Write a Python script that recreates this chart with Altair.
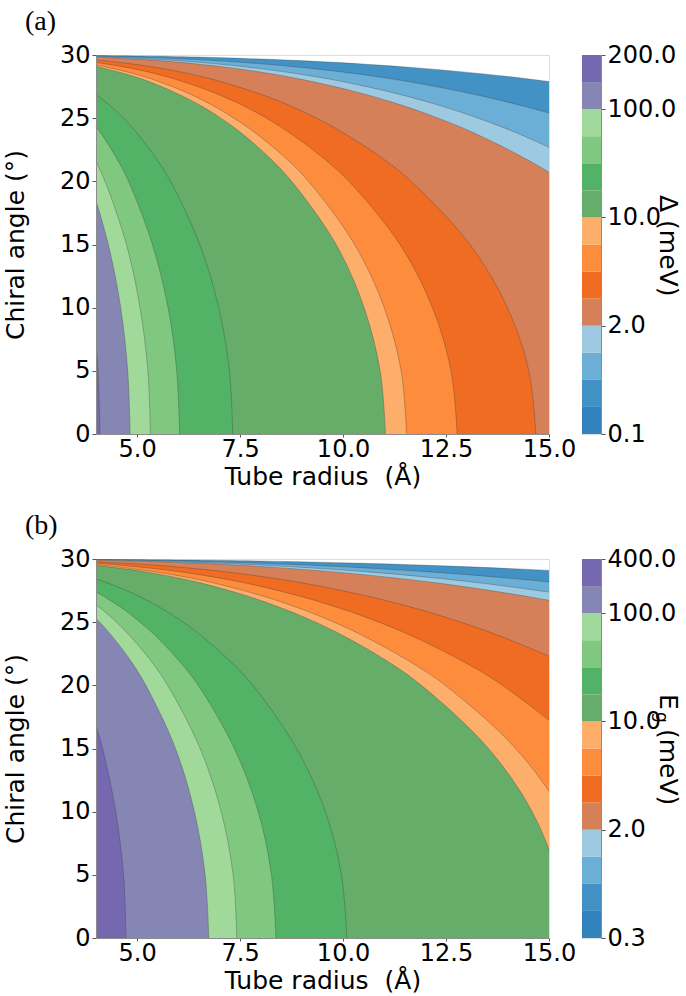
import altair as alt
import pandas as pd

# ---------------- data ----------------
# chiral angles (deg) at which each contour boundary was read
THETA_GRID = [0, 5, 10, 15, 20, 22, 24, 25, 26, 27, 28, 28.5, 29, 29.5, 29.8, 29.9]

# panel (a): Delta contour boundaries, tube radius (A) at THETA_GRID, from lowest level to highest
a_contour_r = [
    [31.33, 30.97, 29.86, 27.91, 24.87, 23.21, 21.18, 19.97, 18.56, 16.88, 14.76, 13.41, 11.72, 9.31, 6.85, 5.44],
    [24.19, 23.91, 23.06, 21.55, 19.20, 17.92, 16.35, 15.42, 14.33, 13.03, 11.39, 10.36, 9.05, 7.18, 5.29, 4.20],
    [20.84, 20.60, 19.87, 18.57, 16.54, 15.44, 14.09, 13.28, 12.35, 11.23, 9.82, 8.92, 7.79, 6.19, 4.56],
    [19.32, 19.10, 18.42, 17.21, 15.33, 14.31, 13.06, 12.31, 11.45, 10.41, 9.10, 8.27, 7.23, 5.74, 4.23],
    [14.68, 14.51, 13.99, 13.08, 11.65, 10.88, 9.92, 9.36, 8.70, 7.91, 6.91, 6.28, 5.49, 4.36],
    [12.77, 12.62, 12.17, 11.38, 10.14, 9.46, 8.63, 8.14, 7.57, 6.88, 6.01, 5.47, 4.78],
    [11.54, 11.41, 11.00, 10.28, 9.16, 8.55, 7.80, 7.35, 6.84, 6.22, 5.44, 4.94, 4.32],
    [11.03, 10.90, 10.51, 9.83, 8.75, 8.17, 7.46, 7.03, 6.54, 5.94, 5.20, 4.72, 4.13],
    [7.32, 7.24, 6.98, 6.52, 5.81, 5.42, 4.95, 4.67, 4.34],
    [6.03, 5.96, 5.75, 5.37, 4.79, 4.47, 4.08],
    [5.32, 5.26, 5.07, 4.74, 4.22],
    [4.83, 4.77, 4.60, 4.30],
    [4.10, 4.05],
]
# angle at which each boundary meets the left edge (r = 4 A)
a_theta_end = [29.96, 29.914, 29.865, 29.83, 29.614, 29.413, 29.204, 29.09, 26.87, 24.34, 21.61, 18.46, 7.27]

# panel (b): E_g contour boundaries
b_contour_r = [
    [46.51, 45.92, 44.10, 40.91, 35.98, 33.33, 30.10, 28.19, 26.00, 23.39, 20.15, 18.12, 15.60, 12.07, 8.59, 6.65],
    [35.85, 35.39, 33.99, 31.53, 27.73, 25.69, 23.20, 21.73, 20.04, 18.03, 15.53, 13.97, 12.02, 9.30, 6.62, 5.12],
    [31.38, 30.98, 29.75, 27.60, 24.28, 22.49, 20.31, 19.02, 17.54, 15.78, 13.59, 12.23, 10.52, 8.14, 5.80, 4.49],
    [28.89, 28.52, 27.39, 25.41, 22.35, 20.70, 18.70, 17.51, 16.15, 14.53, 12.52, 11.26, 9.69, 7.50, 5.34, 4.13],
    [21.21, 20.94, 20.11, 18.66, 16.41, 15.20, 13.73, 12.86, 11.86, 10.67, 9.19, 8.26, 7.11, 5.50],
    [17.93, 17.70, 17.00, 15.77, 13.87, 12.85, 11.61, 10.87, 10.02, 9.02, 7.77, 6.99, 6.01, 4.65],
    [16.14, 15.93, 15.30, 14.19, 12.48, 11.56, 10.44, 9.78, 9.02, 8.12, 6.99, 6.29, 5.41, 4.19],
    [15.39, 15.19, 14.59, 13.53, 11.90, 11.03, 9.96, 9.33, 8.60, 7.74, 6.67, 6.00, 5.16],
    [10.09, 9.96, 9.57, 8.87, 7.81, 7.23, 6.53, 6.12, 5.64, 5.08, 4.37],
    [8.37, 8.26, 7.94, 7.36, 6.48, 6.00, 5.42, 5.07, 4.68, 4.21],
    [7.42, 7.33, 7.04, 6.53, 5.74, 5.32, 4.80, 4.50, 4.15],
    [6.74, 6.65, 6.39, 5.93, 5.21, 4.83, 4.36, 4.09],
    [4.73, 4.67, 4.48, 4.16],
]
b_theta_end = [29.975, 29.949, 29.927, 29.908, 29.789, 29.667, 29.558, 29.497, 28.43, 27.39, 26.38, 25.28, 16.83]

BAND_COLORS = ["#3182bd", "#4292c6", "#6baed6", "#9ecae1",
               "#d6805a", "#ef6c22", "#fd8d3c", "#fdae6b",
               "#66ad6a", "#52b266", "#80c880", "#a1d99b",
               "#8686b5", "#7567b0"]

CBAR_TICK_POS = [0, 4, 8, 12, 14]
a_cbar_labels = ["0.1", "2.0", "10.0", "100.0", "200.0"]
b_cbar_labels = ["0.3", "2.0", "10.0", "100.0", "400.0"]

X_TICKS = [5, 7.5, 10, 12.5, 15]
Y_TICKS = [0, 5, 10, 15, 20, 25, 30]

FONT = "DejaVu Sans"
SPINE = "#8c8c8c"
PLOT_W, PLOT_H = 453, 379


def x_enc():
    return alt.X("r:Q", scale=alt.Scale(domain=[4, 15], nice=False, zero=False),
                 axis=alt.Axis(values=X_TICKS, format=".1f", title="Tube radius \u00a0(Å)",
                               grid=False, domain=True, domainColor=SPINE, zindex=1,
                               tickSize=3, tickColor="#555",
                               labelPadding=0, labelFontSize=24, labelColor="black",
                               labelFont=FONT, titleFont=FONT, titleFontSize=25,
                               titleFontWeight="normal", titleColor="black",
                               titlePadding=3, labelFlush=False))


def y_enc():
    return alt.Y("theta:Q", scale=alt.Scale(domain=[0, 30], nice=False, zero=False),
                 axis=alt.Axis(values=Y_TICKS, format="d", title="Chiral angle (°)",
                               grid=False, domain=True, domainColor=SPINE, zindex=1,
                               tickSize=4, tickColor="#555",
                               labelPadding=2, labelFontSize=24, labelColor="black",
                               labelFont=FONT, titleFont=FONT, titleFontSize=25,
                               titleFontWeight="normal", titleColor="black",
                               titlePadding=31, labelFlush=False))


def contour_panel(rlists, theta_end):
    layers = []
    for k, (rs, te) in enumerate(zip(rlists, theta_end), start=1):
        df = pd.DataFrame({"theta": THETA_GRID[:len(rs)] + [te], "r": rs + [4.0]})
        base = alt.Chart(df)
        area = base.mark_area(color=BAND_COLORS[k], orient="horizontal",
                              interpolate="catmull-rom", clip=True).encode(
            x=x_enc(), y=y_enc(), x2=alt.X2Datum(4))
        line = base.mark_line(color="#3a3a3a", strokeWidth=0.6, opacity=0.55,
                              interpolate="catmull-rom", clip=True).encode(
            x=x_enc(), y=y_enc(), order="theta:Q")
        layers += [area, line]
    return alt.layer(*layers).properties(width=PLOT_W, height=PLOT_H)


def colorbar(labels, title_parts):
    df = pd.DataFrame({"lo": list(range(14)), "hi": list(range(1, 15)), "band": list(range(14))})
    expr = " : ".join(f"datum.value == {p} ? '{l}'" for p, l in zip(CBAR_TICK_POS[:-1], labels[:-1]))
    expr += f" : '{labels[-1]}'"
    rect = alt.Chart(df).mark_rect().encode(
        y=alt.Y("lo:Q", scale=alt.Scale(domain=[0, 14], nice=False, zero=False),
                axis=alt.Axis(orient="right", values=CBAR_TICK_POS, labelExpr=expr, title=None,
                              grid=False, domain=True, domainColor=SPINE, zindex=1,
                              tickSize=4, tickColor="#555",
                              labelPadding=2, labelFontSize=24, labelColor="black",
                              labelFont=FONT, labelFlush=False)),
        y2="hi:Q",
        color=alt.Color("band:N", scale=alt.Scale(domain=list(range(14)), range=BAND_COLORS),
                        legend=None),
    )
    texts = []
    for txt, size, xpos, ypos in title_parts:
        texts.append(
            alt.Chart(pd.DataFrame({"t": [txt]})).mark_text(
                angle=90, align="left", baseline="alphabetic", font=FONT,
                fontSize=size, color="black").encode(
                text="t:N", x=alt.value(xpos), y=alt.value(ypos)))
    return alt.layer(rect, *texts).properties(width=19, height=PLOT_H)


def row(rlists, theta_end, labels, title_parts, tag):
    return alt.hconcat(
        contour_panel(rlists, theta_end),
        colorbar(labels, title_parts),
        spacing=4,
        title=alt.TitleParams(tag, anchor="start", font="Liberation Serif", fontSize=28,
                              fontWeight="normal", color="black", offset=7, dx=22),
    )


row_a = row(a_contour_r, a_theta_end, a_cbar_labels,
            [("Δ (meV)", 25, 78, 140)], "(a)")
row_b = row(b_contour_r, b_theta_end, b_cbar_labels,
            [("E", 25, 78, 135), ("g", 17, 74, 153), ("(meV)", 25, 78, 170)], "(b)")

chart = alt.vconcat(row_a, row_b, spacing=21).properties(
    padding={"left": 2, "top": 7, "right": 0, "bottom": 0}
).configure_view(fill=BAND_COLORS[0], stroke=SPINE, strokeWidth=1).configure(
    background="white")

chart.save("out.html", embed_options={"renderer": "svg", "actions": False})
